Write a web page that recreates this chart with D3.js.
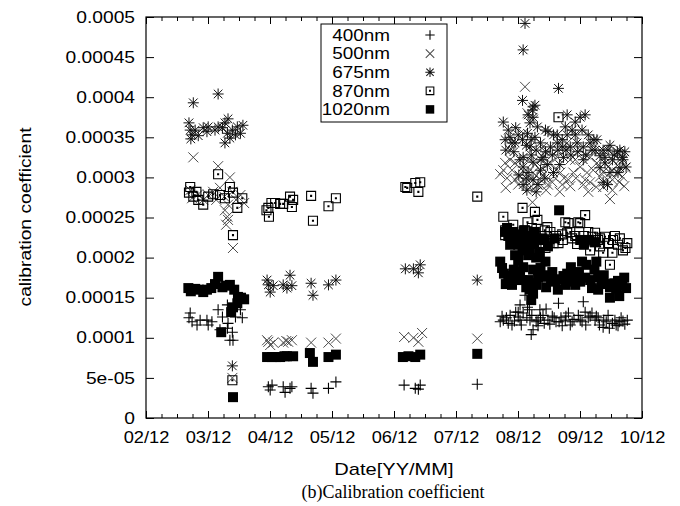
<!DOCTYPE html>
<html><head><meta charset="utf-8">
<script src="https://cdn.jsdelivr.net/npm/d3@7"></script>
<style>body{margin:0;background:#fff}svg{display:block}</style>
</head><body>
<svg id="chart" width="680" height="506"></svg>
<script>
// ---------- data ----------
const seriesNames = ["400nm", "500nm", "675nm", "870nm", "1020nm"];
const xTickYears = [2002.917, 2003.917, 2004.917, 2005.917, 2006.917, 2007.917, 2008.917, 2009.917, 2010.917];
const xTickLabels = ["02/12", "03/12", "04/12", "05/12", "06/12", "07/12", "08/12", "09/12", "10/12"];
const yTickValues = [0, 0.00005, 0.0001, 0.00015, 0.0002, 0.00025, 0.0003, 0.00035, 0.0004, 0.00045, 0.0005];
const yTickLabels = ["0", "5e-05", "0.0001", "0.00015", "0.0002", "0.00025", "0.0003", "0.00035", "0.0004", "0.00045", "0.0005"];

// [decimal year, calibration coefficient]
const data400 = [
[2003.63,0.000131],[2003.61,0.000125],[2003.66,0.000120],[2003.74,0.000116],[2003.79,0.000122],[2003.90,0.000122],[2003.92,0.000116],[2003.98,0.000120],[2004.08,0.000135],[2004.15,0.000126],[2004.11,0.000110],[2004.23,0.000112],[2004.24,0.000118],[2004.31,0.000107],[2004.27,0.000097],[2004.32,0.000097],[2004.36,0.000126],[2004.23,0.000141],[2004.44,0.000135],[2004.47,0.000125],
[2004.89,0.000039],[2004.92,0.000035],[2004.95,0.000041],[2005.13,0.000039],[2005.16,0.000032],[2005.24,0.000037],[2005.27,0.000039],[2005.58,0.000037],[2005.61,0.000031],[2005.86,0.000037],[2005.98,0.000045],
[2007.08,0.000041],[2007.26,0.000037],[2007.31,0.000036],[2007.34,0.000041],[2008.26,0.000042],
[2008.63,0.000120],[2008.68,0.000122],[2008.73,0.000125],[2008.79,0.000128],[2008.86,0.000121],[2008.92,0.000126],[2008.97,0.000116],[2009.00,0.000131],[2009.03,0.000153],[2009.07,0.000138],[2009.11,0.000122],[2009.16,0.000110],[2009.21,0.000120],[2009.28,0.000125],[2009.34,0.000118],[2009.40,0.000122],[2009.47,0.000127],[2009.53,0.000120],[2009.57,0.000143],[2009.61,0.000125],[2009.68,0.000122],[2009.73,0.000131],[2009.76,0.000116],[2009.82,0.000123],[2009.89,0.000128],[2009.95,0.000120],[2009.97,0.000145],[2010.00,0.000132],[2010.05,0.000125],[2010.11,0.000131],[2010.16,0.000122],[2010.23,0.000116],[2010.29,0.000113],[2010.34,0.000120],[2010.39,0.000112],[2010.44,0.000118],[2010.48,0.000122],[2010.55,0.000120],[2010.61,0.000121],[2010.68,0.000122],[2008.92,0.000132],[2009.10,0.000135],[2009.37,0.000136],[2008.82,0.000116],[2009.24,0.000115],[2009.63,0.000115],[2010.18,0.000127],[2010.53,0.000115],
[2008.66,0.000127],[2008.76,0.000118],[2008.88,0.000132],[2008.95,0.000122],[2009.06,0.000125],[2009.14,0.000128],[2009.24,0.000122],[2009.32,0.000128],[2009.43,0.000117],[2009.50,0.000125],[2009.58,0.000120],[2009.69,0.000127],[2009.79,0.000120],[2009.92,0.000122],[2010.01,0.000116],[2010.08,0.000127],[2010.21,0.000125],[2010.30,0.000122],[2010.37,0.000128],[2010.50,0.000116],[2010.58,0.000125],[2010.64,0.000117],[2009.13,0.000104],[2009.27,0.000135],[2008.95,0.000141]
];

const data500 = [
[2003.68,0.000325],[2004.08,0.000314],[2004.27,0.000300],[2003.63,0.000284],[2003.66,0.000274],[2003.76,0.000279],[2003.84,0.000272],[2003.92,0.000278],[2004.00,0.000282],[2004.05,0.000272],[2004.11,0.000287],[2004.18,0.000276],[2004.24,0.000266],[2004.31,0.000282],[2004.37,0.000272],[2004.44,0.000278],[2004.50,0.000268],[2004.19,0.000259],[2004.23,0.000251],[2004.24,0.000247],[2004.21,0.000241],[2004.32,0.000212],[2004.31,0.000050],
[2004.89,0.000095],[2004.92,0.000091],[2004.97,0.000094],[2004.87,0.000097],[2005.13,0.000094],[2005.18,0.000096],[2005.21,0.000095],[2005.27,0.000097],[2005.58,0.000094],[2005.86,0.000094],[2005.98,0.000099],
[2007.08,0.000101],[2007.23,0.000100],[2007.31,0.000095],[2007.37,0.000106],[2008.26,0.000099],
[2009.03,0.000413],[2009.15,0.000269],[2010.40,0.000273],[2008.71,0.000318],[2008.68,0.000309],[2008.79,0.000322],[2008.87,0.000318],[2008.95,0.000301],[2009.16,0.000306],[2009.28,0.000297],[2009.32,0.000303],[2009.49,0.000301],[2009.60,0.000306],[2009.73,0.000297],[2009.81,0.000306],[2009.92,0.000313],[2010.03,0.000306],[2010.13,0.000309],[2010.24,0.000301],[2010.36,0.000297],[2010.52,0.000306],[2010.60,0.000301],[2009.07,0.000380],[2009.16,0.000372],[2009.00,0.000355],[2009.32,0.000338],[2009.55,0.000325],[2009.76,0.000322],[2010.08,0.000325],[2009.71,0.000343],[2009.92,0.000334],[2008.79,0.000334],[2009.44,0.000318],[2010.19,0.000318],[2010.37,0.000313],[2010.52,0.000315],[2010.29,0.000288],[2009.07,0.000294],[2009.23,0.000291],[2008.87,0.000297],[2009.40,0.000291],[2009.63,0.000291],[2010.00,0.000297],[2010.44,0.000297],[2010.65,0.000312],[2008.63,0.000304],
[2008.74,0.000299],[2008.82,0.000309],[2008.92,0.000291],[2009.01,0.000307],[2009.11,0.000287],[2009.21,0.000302],[2009.30,0.000312],[2009.37,0.000284],[2009.47,0.000294],[2009.53,0.000309],[2009.59,0.000282],[2009.66,0.000299],[2009.76,0.000289],[2009.85,0.000299],[2009.97,0.000291],[2010.08,0.000294],[2010.18,0.000288],[2010.29,0.000307],[2010.44,0.000309],[2010.55,0.000294],[2010.63,0.000289],[2008.72,0.000287],[2009.08,0.000322],[2009.40,0.000332],[2009.84,0.000322],[2010.24,0.000334],[2010.56,0.000322],[2009.19,0.000316],[2010.05,0.000282],[2010.44,0.000284]
];

const data675 = [
[2003.68,0.000393],[2004.08,0.000404],[2003.61,0.000368],[2003.63,0.000359],[2003.66,0.000353],[2003.64,0.000348],[2003.71,0.000359],[2003.84,0.000362],[2003.90,0.000357],[2003.92,0.000363],[2004.03,0.000359],[2004.08,0.000363],[2004.15,0.000362],[2004.19,0.000368],[2004.24,0.000373],[2004.23,0.000355],[2004.27,0.000349],[2004.31,0.000359],[2004.36,0.000353],[2004.39,0.000363],[2004.44,0.000355],[2004.48,0.000365],[2004.19,0.000343],[2004.31,0.000065],[2003.76,0.000352],
[2004.89,0.000166],[2004.92,0.000157],[2004.87,0.000172],[2004.97,0.000165],[2005.13,0.000166],[2005.24,0.000178],[2005.27,0.000165],[2005.19,0.000162],[2005.58,0.000168],[2005.61,0.000153],[2005.86,0.000166],[2005.98,0.000172],
[2007.10,0.000186],[2007.23,0.000186],[2007.31,0.000181],[2007.34,0.000191],[2008.26,0.000172],
[2009.03,0.000492],[2009.00,0.000459],[2009.57,0.000411],[2008.99,0.000396],[2008.68,0.000369],[2009.16,0.000388],[2009.15,0.000384],[2009.19,0.000390],[2009.08,0.000378],[2009.16,0.000375],[2009.23,0.000363],[2009.36,0.000359],[2009.71,0.000378],[2009.84,0.000369],[2009.92,0.000375],[2010.00,0.000378],[2009.68,0.000363],[2009.79,0.000359],[2010.05,0.000353],[2010.19,0.000347],[2010.08,0.000343],[2010.29,0.000334],[2010.32,0.000325],[2010.52,0.000332],[2010.60,0.000325],[2010.61,0.000322],[2010.32,0.000318],[2008.79,0.000350],[2008.71,0.000347],[2008.87,0.000343],[2008.99,0.000347],[2009.00,0.000325],[2009.11,0.000338],[2009.28,0.000343],[2009.44,0.000338],[2009.55,0.000343],[2009.63,0.000347],[2009.76,0.000338],[2009.87,0.000343],[2009.97,0.000338],[2009.00,0.000313],[2009.08,0.000306],[2009.16,0.000297],[2009.00,0.000291],[2009.28,0.000309],[2009.49,0.000306],[2009.65,0.000325],[2009.97,0.000322],[2010.40,0.000306],[2010.29,0.000294],[2010.36,0.000291],[2010.53,0.000306],[2008.95,0.000322],[2009.32,0.000325],[2009.07,0.000355],[2009.11,0.000368],[2009.19,0.000350],[2008.82,0.000343],[2009.36,0.000332],[2010.16,0.000334],[2010.44,0.000322],[2010.66,0.000313],[2009.49,0.000353],[2009.84,0.000353],
[2008.72,0.000334],[2008.85,0.000332],[2008.92,0.000353],[2009.05,0.000340],[2009.13,0.000328],[2009.21,0.000334],[2009.29,0.000322],[2009.39,0.000316],[2009.47,0.000328],[2009.56,0.000334],[2009.59,0.000316],[2009.69,0.000334],[2009.77,0.000328],[2009.88,0.000332],[2010.01,0.000328],[2010.11,0.000334],[2010.24,0.000327],[2010.37,0.000334],[2010.47,0.000328],[2010.56,0.000334],[2010.64,0.000332],[2008.93,0.000303],[2009.05,0.000299],[2009.24,0.000291],[2009.35,0.000299],[2009.16,0.000319],[2009.40,0.000357],[2009.55,0.000353],[2009.71,0.000353],[2009.95,0.000359],[2010.14,0.000347],[2010.40,0.000340],[2008.88,0.000362],[2008.76,0.000359],[2009.06,0.000284],[2009.21,0.000282],[2010.24,0.000312],[2010.56,0.000312],[2009.13,0.000347],[2009.64,0.000338]
];

const data870 = [
[2004.08,0.000304],[2003.63,0.000288],[2003.61,0.000281],[2003.68,0.000276],[2003.76,0.000272],[2003.84,0.000266],[2003.92,0.000276],[2004.00,0.000279],[2004.11,0.000278],[2004.19,0.000274],[2004.27,0.000288],[2004.32,0.000281],[2004.39,0.000262],[2004.47,0.000274],[2004.32,0.000228],[2004.31,0.000047],[2003.73,0.000282],
[2004.89,0.000262],[2004.90,0.000251],[2004.94,0.000268],[2005.00,0.000268],[2005.08,0.000267],[2005.13,0.000267],[2005.24,0.000276],[2005.27,0.000263],[2005.29,0.000272],[2005.58,0.000277],[2005.61,0.000246],[2005.86,0.000264],[2005.98,0.000274],[2004.86,0.000259],
[2007.10,0.000288],[2007.13,0.000287],[2007.26,0.000293],[2007.34,0.000294],[2007.31,0.000282],[2008.26,0.000276],
[2008.68,0.000251],[2008.71,0.000234],[2008.71,0.000228],[2008.99,0.000262],[2009.07,0.000244],[2009.19,0.000257],[2009.23,0.000247],[2009.39,0.000238],[2009.57,0.000375],[2009.68,0.000244],[2009.71,0.000231],[2009.49,0.000218],[2009.57,0.000218],[2009.89,0.000244],[2010.00,0.000253],[2009.92,0.000243],[2010.13,0.000226],[2010.21,0.000222],[2010.29,0.000206],[2010.44,0.000206],[2010.40,0.000191],[2010.53,0.000216],[2010.61,0.000209],[2010.65,0.000212],[2008.82,0.000224],[2008.95,0.000228],[2009.11,0.000222],[2009.28,0.000227],[2009.44,0.000232],[2009.79,0.000224],[2010.05,0.000232],[2010.32,0.000226],[2010.48,0.000227],[2009.36,0.000212],[2010.08,0.000209],[2010.24,0.000214],[2009.73,0.000243],[2009.63,0.000229],[2009.87,0.000217],[2009.97,0.000227],
[2009.53,0.000227],[2009.64,0.000222],[2009.76,0.000232],[2009.84,0.000227],[2009.98,0.000218],[2010.16,0.000231],[2010.24,0.000224],[2010.37,0.000218],[2010.45,0.000222],[2010.56,0.000224],[2010.68,0.000218],[2009.35,0.000234],[2009.14,0.000237],[2008.84,0.000241],[2009.03,0.000234]
];

const data1020 = [
[2003.60,0.000162],[2003.64,0.000158],[2003.71,0.000161],[2003.77,0.000160],[2003.84,0.000157],[2003.90,0.000160],[2003.97,0.000162],[2004.03,0.000167],[2004.08,0.000176],[2004.15,0.000163],[2004.21,0.000165],[2004.27,0.000166],[2004.34,0.000160],[2004.40,0.000151],[2004.45,0.000150],[2004.50,0.000148],[2004.39,0.000143],[2004.32,0.000138],[2004.29,0.000132],[2004.13,0.000107],[2004.32,0.000026],
[2004.87,0.000076],[2004.95,0.000076],[2005.08,0.000076],[2005.19,0.000077],[2005.29,0.000077],[2005.56,0.000081],[2005.61,0.000070],[2005.86,0.000076],[2005.98,0.000079],[2005.02,0.000076],[2005.15,0.000077],
[2007.06,0.000076],[2007.15,0.000077],[2007.26,0.000076],[2007.34,0.000079],[2008.26,0.000080],
[2009.58,0.000259],[2008.71,0.000232],[2008.76,0.000227],[2008.82,0.000222],[2008.89,0.000229],[2008.95,0.000224],[2009.03,0.000219],[2009.11,0.000227],[2009.18,0.000217],[2009.24,0.000222],[2009.31,0.000224],[2009.40,0.000214],[2008.99,0.000209],[2009.08,0.000203],[2009.92,0.000222],[2009.98,0.000216],[2010.16,0.000219],[2008.79,0.000216],
[2008.63,0.000195],[2008.66,0.000187],[2008.69,0.000180],[2008.76,0.000177],[2008.82,0.000175],[2008.89,0.000176],[2008.95,0.000182],[2009.00,0.000188],[2009.05,0.000163],[2009.11,0.000160],[2009.16,0.000155],[2009.21,0.000166],[2009.28,0.000187],[2009.32,0.000178],[2009.39,0.000176],[2009.45,0.000172],[2009.52,0.000170],[2009.58,0.000173],[2009.65,0.000177],[2009.71,0.000180],[2009.77,0.000188],[2009.84,0.000177],[2009.90,0.000182],[2009.95,0.000195],[2010.02,0.000191],[2010.08,0.000172],[2010.15,0.000185],[2010.21,0.000175],[2010.27,0.000170],[2010.34,0.000167],[2010.40,0.000163],[2010.40,0.000150],[2010.47,0.000168],[2010.53,0.000171],[2010.60,0.000165],[2010.66,0.000162],[2009.13,0.000147],[2009.08,0.000172],[2009.16,0.000185],[2009.37,0.000163],[2009.68,0.000166],[2009.84,0.000166],[2010.00,0.000175],[2010.21,0.000160],[2008.82,0.000166],[2008.92,0.000197],[2009.36,0.000195],
[2008.74,0.000237],[2008.84,0.000232],[2008.92,0.000216],[2009.01,0.000234],[2009.11,0.000212],[2009.19,0.000232],[2009.27,0.000207],[2009.35,0.000222],[2008.87,0.000203],[2009.21,0.000200],[2009.51,0.000224],[2010.05,0.000222],[2008.72,0.000167],[2008.85,0.000185],[2008.98,0.000172],[2009.24,0.000175],[2009.47,0.000182],[2009.56,0.000160],[2009.74,0.000170],[2009.92,0.000170],[2010.11,0.000162],[2010.30,0.000178],[2010.50,0.000162],[2010.63,0.000175],[2010.18,0.000195],[2009.14,0.000168],[2010.55,0.000152]
];

const allSeries = [data400, data500, data675, data870, data1020];

// ---------- drawing ----------
const svg = d3.select("#chart");
const pLeft = 146, pRight = 642, pTop = 17, pBottom = 418;
const FONT = "'Liberation Sans', Arial, Helvetica, sans-serif";

const x = d3.scaleLinear().domain([xTickYears[0], xTickYears[xTickYears.length - 1]]).range([pLeft, pRight]);
const y = d3.scaleLinear().domain([0, 0.0005]).range([pBottom, pTop]);

const minorYears = [];
xTickYears.slice(0, -1).forEach(t => { [0.25, 0.5, 0.75].forEach(f => minorYears.push(t + f)); });

function stretch(sel, k) {
  sel.each(function () {
    const L = this.getComputedTextLength();
    this.setAttribute("textLength", (L * k).toFixed(2));
    this.setAttribute("lengthAdjust", "spacingAndGlyphs");
  });
}

function styleAxis(g) {
  g.select(".domain").remove();
  g.selectAll(".tick line").attr("stroke", "#000").attr("stroke-width", 1);
  g.attr("font-family", FONT).attr("font-size", 16);
  g.selectAll(".tick text").attr("fill", "#000");
}

// bottom axis with labels
const gx = svg.append("g").attr("transform", `translate(0,${pBottom})`)
  .call(d3.axisBottom(x).tickValues(xTickYears).tickFormat((d, i) => xTickLabels[i]).tickSizeInner(-7).tickSizeOuter(0).tickPadding(14));
styleAxis(gx);
stretch(gx.selectAll(".tick text"), 1.14);
const gxm = svg.append("g").attr("transform", `translate(0,${pBottom})`)
  .call(d3.axisBottom(x).tickValues(minorYears).tickFormat("").tickSizeInner(-4).tickSizeOuter(0));
styleAxis(gxm);
// top mirror
const gt = svg.append("g").attr("transform", `translate(0,${pTop})`)
  .call(d3.axisTop(x).tickValues(xTickYears).tickFormat("").tickSizeInner(-7).tickSizeOuter(0));
styleAxis(gt);
const gtm = svg.append("g").attr("transform", `translate(0,${pTop})`)
  .call(d3.axisTop(x).tickValues(minorYears).tickFormat("").tickSizeInner(-4).tickSizeOuter(0));
styleAxis(gtm);
// left axis with labels
const gy = svg.append("g").attr("transform", `translate(${pLeft},0)`)
  .call(d3.axisLeft(y).tickValues(yTickValues).tickFormat((d, i) => yTickLabels[i]).tickSizeInner(-8).tickSizeOuter(0).tickPadding(11));
styleAxis(gy);
stretch(gy.selectAll(".tick text"), 1.2);
// right mirror
const gr = svg.append("g").attr("transform", `translate(${pRight},0)`)
  .call(d3.axisRight(y).tickValues(yTickValues).tickFormat("").tickSizeInner(-8).tickSizeOuter(0));
styleAxis(gr);

// border
svg.append("rect").attr("x", pLeft).attr("y", pTop).attr("width", pRight - pLeft).attr("height", pBottom - pTop)
  .attr("fill", "none").attr("stroke", "#000").attr("stroke-width", 1.2);

// markers
const markers = [
  { d: "M-5.5,0H5.5M0,-5.5V5.5", stroke: "#000", fill: "none", sw: 1.1 },
  { d: "M-5,-5L5,5M-5,5L5,-5", stroke: "#4a4a4a", fill: "none", sw: 1 },
  { d: "M-5.5,0H5.5M0,-5.5V5.5M-4.3,-4.3L4.3,4.3M-4.3,4.3L4.3,-4.3", stroke: "#111", fill: "none", sw: 1 },
  { d: "M-4.5,-4.5H4.5V4.5H-4.5ZM-0.5,-0.5H0.5V0.5H-0.5Z", stroke: "#000", fill: "none", sw: 1.1 },
  { d: "M-5,-5H5V5H-5Z", stroke: "none", fill: "#000", sw: 0 }
];

const plot = svg.append("g");
allSeries.forEach((data, si) => {
  const m = markers[si];
  plot.append("g").selectAll("path").data(data).join("path")
    .attr("transform", d => `translate(${x(d[0]).toFixed(2)},${y(d[1]).toFixed(2)})`)
    .attr("d", m.d).attr("fill", m.fill).attr("stroke", m.stroke).attr("stroke-width", m.sw);
});

// legend
const lg = svg.append("g");
lg.append("rect").attr("x", 321).attr("y", 24).attr("width", 126).attr("height", 98)
  .attr("fill", "#fff").attr("stroke", "#000").attr("stroke-width", 1);
seriesNames.forEach((name, i) => {
  const cy = 35 + i * 18.6;
  const t = lg.append("text").attr("x", 390).attr("y", cy).attr("dy", "0.36em")
    .attr("text-anchor", "end").attr("font-family", FONT).attr("font-size", 16).attr("fill", "#000").text(name);
  stretch(t, 1.18);
  const m = markers[i];
  lg.append("path").attr("transform", `translate(430,${cy}) scale(0.85)`)
    .attr("d", m.d).attr("fill", m.fill).attr("stroke", m.stroke).attr("stroke-width", m.sw / 0.85);
});

// axis titles
const xt = svg.append("text").attr("x", 394).attr("y", 475).attr("text-anchor", "middle")
  .attr("font-family", FONT).attr("font-size", 17).attr("fill", "#000").text("Date[YY/MM]");
stretch(xt, 1.18);
const yt = svg.append("text").attr("transform", "translate(31,217) rotate(-90)").attr("text-anchor", "middle")
  .attr("font-family", FONT).attr("font-size", 16).attr("fill", "#000").text("calibration coefficient");
stretch(yt, 1.2);
svg.append("text").attr("x", 393).attr("y", 498).attr("text-anchor", "middle")
  .attr("font-family", "'Liberation Serif', 'Times New Roman', serif").attr("font-size", 18).attr("fill", "#000")
  .text("(b)Calibration coefficient");
</script>
</body></html>
